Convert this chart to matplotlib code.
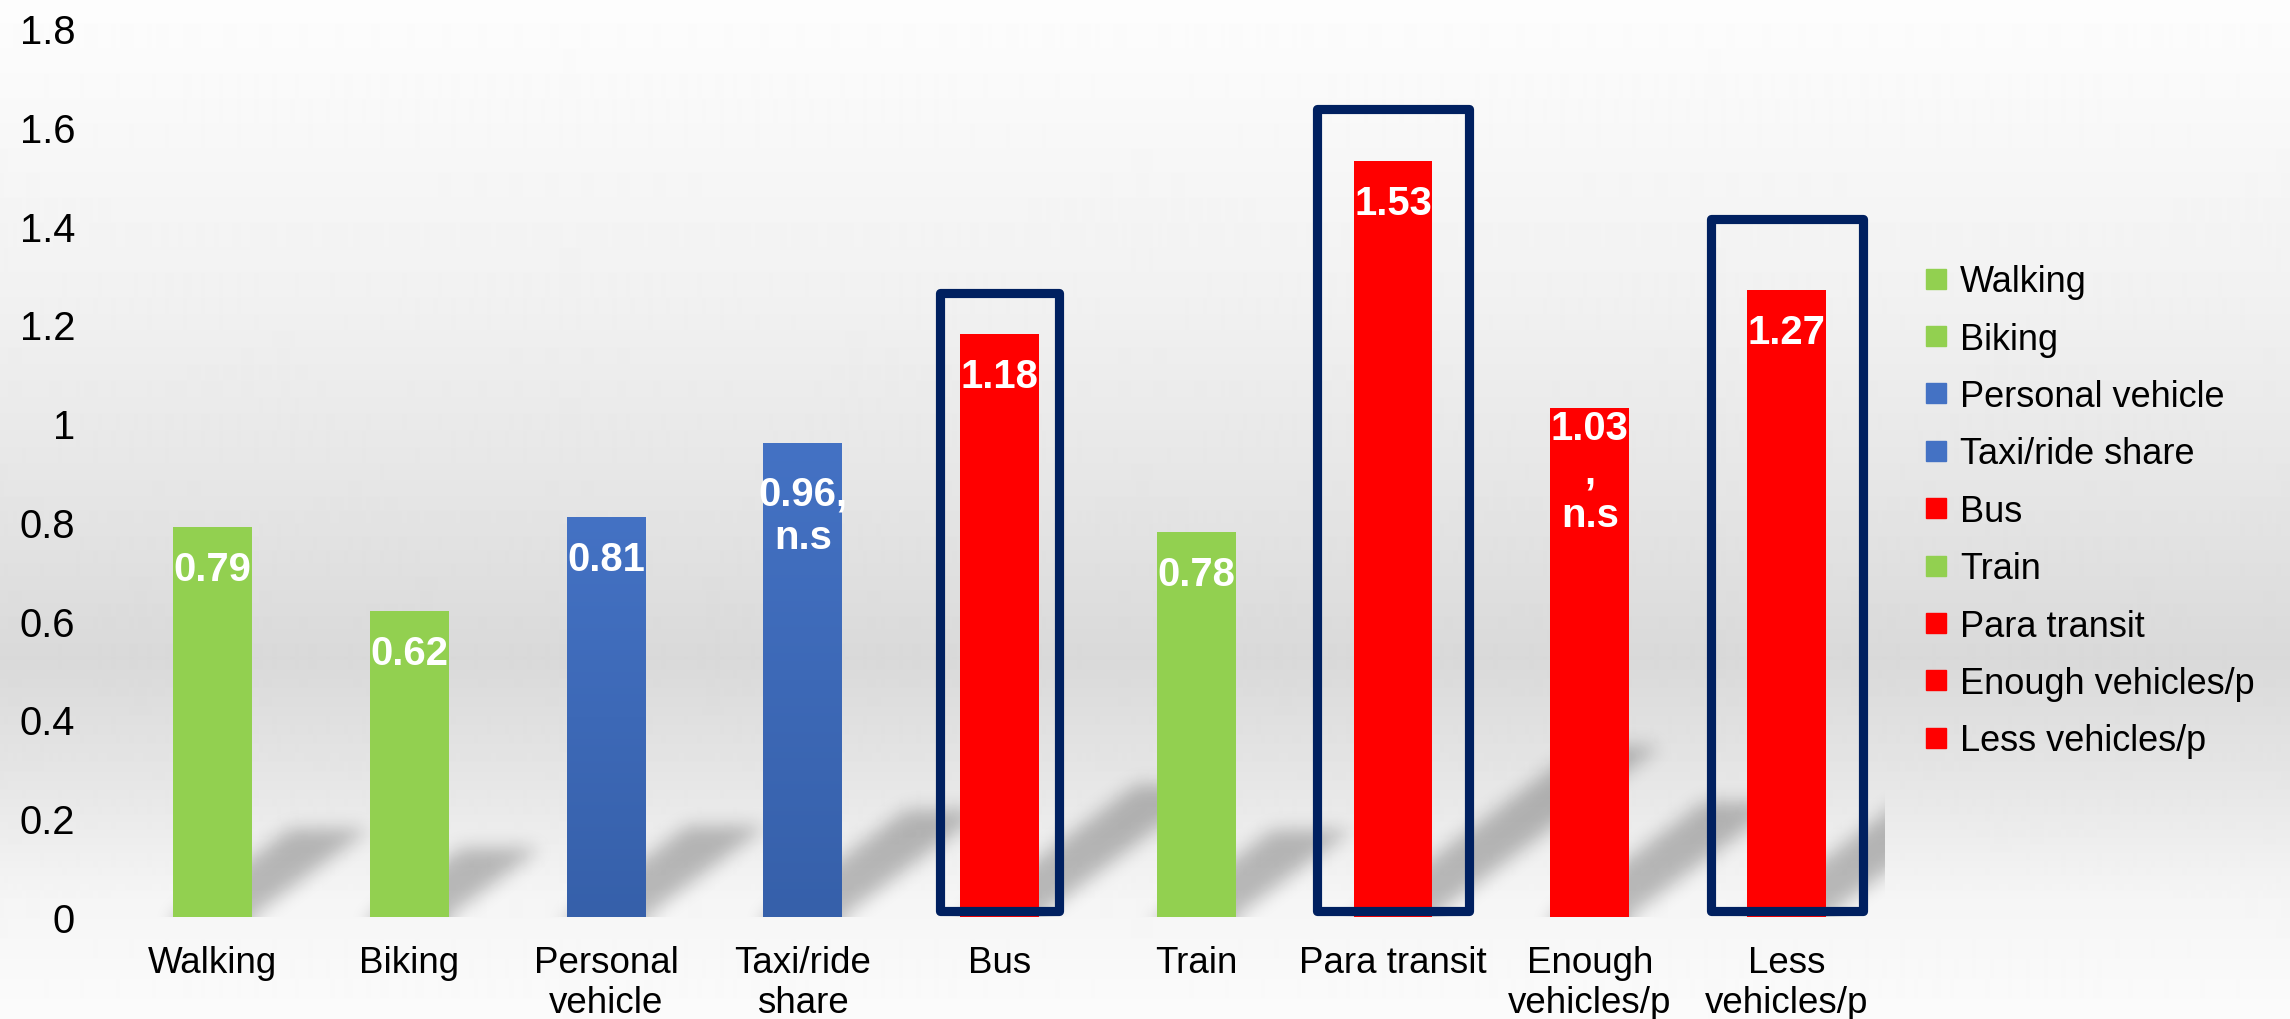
import numpy as np
import matplotlib.pyplot as plt
from matplotlib.patches import Rectangle
from matplotlib.lines import Line2D
from matplotlib.colors import to_rgb

plt.rcParams['font.family'] = ['Liberation Sans', 'DejaVu Sans']

# odds ratios by travel mode
categories = ['Walking', 'Biking', 'Personal\nvehicle', 'Taxi/ride\nshare', 'Bus',
              'Train', 'Para transit', 'Enough\nvehicles/p', 'Less\nvehicles/p']
legend_names = ['Walking', 'Biking', 'Personal vehicle', 'Taxi/ride share', 'Bus',
                'Train', 'Para transit', 'Enough vehicles/p', 'Less vehicles/p']
values = [0.79, 0.62, 0.81, 0.96, 1.18, 0.78, 1.53, 1.03, 1.27]
mode_group = ['active', 'active', 'car', 'car', 'transit', 'active', 'transit', 'transit', 'transit']
significant = [True, True, True, False, True, True, True, False, True]

colors = {'active': '#92D050', 'car': '#4472C4', 'transit': '#FF0000'}

labels = [f'{v:.2f}' for v in values]
labels[3] += ',\nn.s'
labels[7] += '\n,\nn.s'

W_FIG, H_FIG = 2290, 1020
fig = plt.figure(figsize=(W_FIG / 100, H_FIG / 100), dpi=100)

# grey gradient behind everything
bg = fig.add_axes([0, 0, 1, 1], zorder=-5)
stops_y = np.array([0, 300, 500, 660, 800, 900, 1020]) / H_FIG
stops_v = np.array([253, 241, 229, 217, 232, 245, 251]) / 255
g = np.interp(np.linspace(0, 1, H_FIG), stops_y, stops_v)
bg.imshow(np.repeat(g[:, None], 2, axis=1), cmap='gray', vmin=0, vmax=1,
          aspect='auto', extent=[0, 1, 0, 1], interpolation='bilinear')
bg.set_xlim(0, 1)
bg.set_ylim(0, 1)
bg.axis('off')

ax_l, ax_b, ax_w, ax_h = 114, 102, 1771, 889
ax = fig.add_axes([ax_l / W_FIG, ax_b / H_FIG, ax_w / W_FIG, ax_h / H_FIG])
ax.patch.set_alpha(0)
x = np.arange(len(values))
ax.set_xlim(-0.5, len(values) - 0.5)
ax.set_ylim(0, 1.8)
bar_w = 0.4

# perspective shadows behind the bars, blurred
pad = 40
sx = ax_w / len(values)
sy = ax_h / 1.8
Y = (np.arange(ax_h + 2 * pad) - pad)[:, None].astype(float)
X = (np.arange(ax_w + 2 * pad) - pad)[None, :].astype(float)
mask = np.zeros((ax_h + 2 * pad, ax_w + 2 * pad))
for xi, v in zip(x, values):
    x0 = (xi - bar_w / 2 + 0.5) * sx
    x1 = (xi + bar_w / 2 + 0.5) * sx
    hp = v * sy
    dx, dy = 0.3 * hp, 0.225 * hp
    shift = dx * np.clip(Y, 0, None) / dy
    inside = (Y <= dy) & (X >= x0 + shift) & (X <= x1 + shift)
    mask = np.maximum(mask, inside.astype(float))

sigma = 9
k = np.arange(-3 * sigma, 3 * sigma + 1)
kern = np.exp(-k ** 2 / (2 * sigma ** 2))
kern /= kern.sum()
mask = np.apply_along_axis(lambda r: np.convolve(r, kern, mode='same'), 1, mask)
mask = np.apply_along_axis(lambda c: np.convolve(c, kern, mode='same'), 0, mask)
mask = mask[pad:pad + ax_h, pad:pad + ax_w]
shadow = np.zeros((ax_h, ax_w, 4))
shadow[..., 3] = 0.25 * mask
ax.imshow(shadow, origin='lower', extent=(-0.5, len(values) - 0.5, 0, 1.8),
          aspect='auto', zorder=0.5, interpolation='bilinear')

bars = ax.bar(x, values, width=bar_w, color=[colors[m] for m in mode_group], zorder=2)

# blue bars get a vertical gradient
top_c = np.array(to_rgb('#4472C4'))
bot_c = np.array(to_rgb('#3660AA'))
for bar, m in zip(bars, mode_group):
    if m != 'car':
        continue
    t = np.linspace(0, 1, 200)[:, None]
    grad = (bot_c * (1 - t) + top_c * t)[:, None, :]
    bx, by = bar.get_x(), bar.get_y()
    im = ax.imshow(grad, origin='lower', aspect='auto', zorder=2.1,
                   extent=(bx, bx + bar.get_width(), by, by + bar.get_height()))
    im.set_clip_path(bar)
ax.set_xlim(-0.5, len(values) - 0.5)
ax.set_ylim(0, 1.8)

# navy frames around the significant transit results
frames = {'Bus': (0.30, 1.264), 'Para transit': (0.386, 1.637), 'Less vehicles/p': (0.386, 1.413)}
for name, (hw, top) in frames.items():
    xi = legend_names.index(name)
    ax.add_patch(Rectangle((xi - hw, 0.012), 2 * hw, top - 0.012, fill=False,
                           ec='#002060', lw=6.6, joinstyle='round', zorder=3, clip_on=False))

# value labels inside the bars
offsets = {1: 16.5, 2: 23, 3: 0.5}
for xi, v, txt in zip(x, values, labels):
    n = txt.count('\n') + 1
    ax.annotate(txt, xy=(xi, v), xytext=(0, -offsets[n]), textcoords='offset points',
                ha='center', va='top', color='white', fontweight='bold',
                fontsize=28.8, linespacing=1.18, zorder=4)

ax.set_xticks(x, categories)
ax.set_yticks(np.arange(0, 1.81, 0.2))
ax.set_yticklabels([f'{t:g}' for t in np.arange(0, 1.81, 0.2).round(1)])
ax.tick_params(axis='x', length=0, pad=20, labelsize=26.5)
ax.tick_params(axis='y', length=0, pad=28, labelsize=28.8)
for s in ax.spines.values():
    s.set_visible(False)

handles = [Line2D([], [], marker='s', ls='', color=colors[m], markersize=13.7) for m in mode_group]
fig.legend(handles, legend_names, loc='upper left', bbox_to_anchor=(1922 / W_FIG, 0.740),
           frameon=False, fontsize=26, handlelength=0.8, handletextpad=0.25,
           labelspacing=0.62, borderpad=0, borderaxespad=0)

fig.savefig('out.png', dpi=100)
